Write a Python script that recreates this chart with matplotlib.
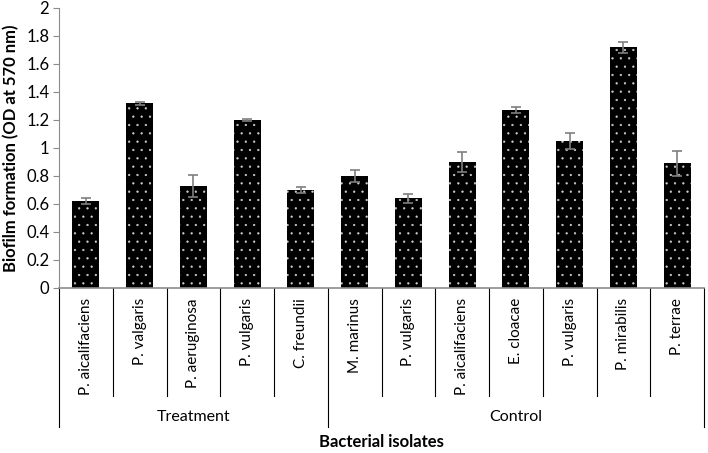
import numpy as np
import matplotlib.pyplot as plt
import matplotlib.transforms as mtransforms

plt.rcParams['font.family'] = ['Lato', 'DejaVu Sans']
plt.rcParams['hatch.linewidth'] = 0.4

# Data
isolates = ['P. aicalifaciens', 'P. valgaris', 'P. aeruginosa', 'P. vulgaris', 'C. freundii',
            'M. marinus', 'P. vulgaris', 'P. aicalifaciens', 'E. cloacae', 'P. vulgaris',
            'P. mirabilis', 'P. terrae']
groups = ['Treatment', 'Control']
group_sizes = [5, 7]
od_values = [0.62, 1.32, 0.73, 1.20, 0.70, 0.80, 0.64, 0.90, 1.27, 1.05, 1.72, 0.89]
od_errors = [0.02, 0.01, 0.08, 0.01, 0.02, 0.04, 0.03, 0.07, 0.02, 0.06, 0.04, 0.09]

fig = plt.figure(figsize=(7.08, 4.53), dpi=100)
ax = fig.add_axes([59 / 708, (453 - 288) / 453, (704 - 59) / 708, 280 / 453])

x = np.arange(len(isolates))
ax.bar(x, od_values, width=0.5, color='black', edgecolor='#cfcfcf', linewidth=0, hatch='..')
ax.errorbar(x, od_values, yerr=od_errors, fmt='none', ecolor='#7f7f7f', elinewidth=1.2,
            capsize=3.5, capthick=1.2)

ax.set_xlim(-0.5, len(isolates) - 0.5)
ax.set_ylim(0, 2)
ax.set_yticks(np.arange(0, 2.01, 0.2))
ax.set_yticklabels(['0', '0.2', '0.4', '0.6', '0.8', '1', '1.2', '1.4', '1.6', '1.8', '2'])
ax.tick_params(axis='y', labelsize=12, length=4, color='#8c8c8c', pad=3)
ax.set_xticks([])

for side in ['top', 'right']:
    ax.spines[side].set_visible(False)
ax.spines['left'].set_color('#8c8c8c')
ax.spines['bottom'].set_color('#8c8c8c')
ax.spines['bottom'].set_linewidth(1.2)

ax.set_ylabel('Biofilm formation (OD at 570 nm)', fontsize=12, fontweight='bold', labelpad=5)

# multi-level category axis
trans = mtransforms.blended_transform_factory(ax.transData, ax.transAxes)
inner_bottom = -(396 - 288) / 280
outer_bottom = -(427 - 288) / 280
for i, name in enumerate(isolates):
    ax.text(i, -(298 - 288) / 280, name, rotation=90, ha='center', va='top', fontsize=11,
            transform=trans)

bounds = np.cumsum([0] + group_sizes) - 0.5
for b in np.arange(len(isolates) + 1) - 0.5:
    low = outer_bottom if b in bounds else inner_bottom
    ax.plot([b, b], [0, low], color='black', lw=0.8, transform=trans, clip_on=False)

for g, start, size in zip(groups, bounds[:-1], group_sizes):
    ax.text(start + size / 2, -(417 - 288) / 280, g, ha='center', va='center',
            fontsize=11.5, transform=trans)

fig.text(381 / 708, 1 - 442 / 453, 'Bacterial isolates', ha='center', va='center',
         fontsize=12, fontweight='bold')

fig.savefig('out.png', dpi=100)
